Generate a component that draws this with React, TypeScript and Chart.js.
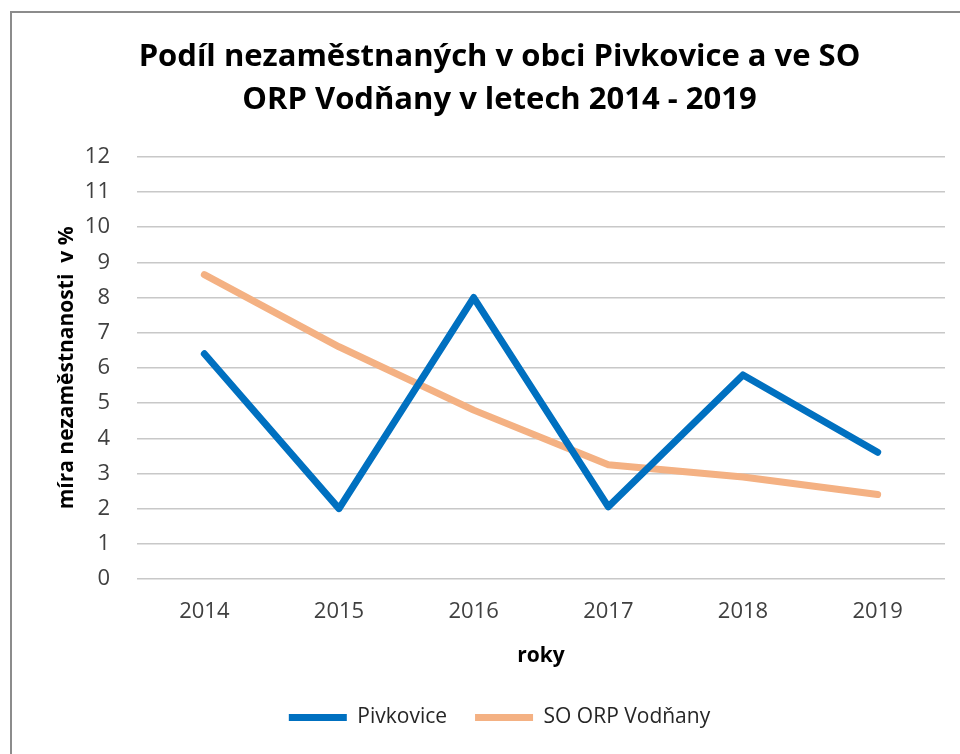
import React, { useEffect, useRef } from "react";
import { Chart, registerables } from "chart.js";

Chart.register(...registerables);

const titleLines = [
  "Podíl nezaměstnaných v obci Pivkovice a ve SO",
  "ORP Vodňany v letech 2014 - 2019",
];
const years = ["2014", "2015", "2016", "2017", "2018", "2019"];
const pivkovice = [6.4, 2.0, 8.0, 2.05, 5.8, 3.6];
const soOrpVodnany = [8.65, 6.6, 4.8, 3.25, 2.9, 2.4];
const seriesNames = ["Pivkovice", "SO ORP Vodňany"];
const yAxisTitle = "míra nezaměstnanosti  v %";
const xAxisTitle = "roky";

const FONT = "'Open Sans', sans-serif";

export default function App() {
  const ref = useRef<HTMLCanvasElement | null>(null);

  useEffect(() => {
    document.body.style.margin = "0";
    const canvas = ref.current;
    if (!canvas) return;
    const chart = new Chart(canvas, {
      type: "line",
      data: {
        labels: years,
        datasets: [
          {
            label: seriesNames[0],
            data: pivkovice,
            borderColor: "#0070C0",
            backgroundColor: "#0070C0",
            borderWidth: 7,
            pointRadius: 0,
            borderCapStyle: "round",
            borderJoinStyle: "round",
            tension: 0,
          },
          {
            label: seriesNames[1],
            data: soOrpVodnany,
            borderColor: "#F4B183",
            backgroundColor: "#F4B183",
            borderWidth: 7,
            pointRadius: 0,
            borderCapStyle: "round",
            borderJoinStyle: "round",
            tension: 0,
          },
        ],
      },
      options: {
        responsive: false,
        animation: false,
        devicePixelRatio: 1,
        layout: { padding: { left: 54, right: 15, top: 0, bottom: 16 } },
        plugins: {
          tooltip: { enabled: false },
          title: {
            display: true,
            text: titleLines,
            color: "#000",
            font: { family: FONT, size: 31, weight: "bold", lineHeight: 1.4 },
            padding: { top: 35, bottom: 35 },
          },
          legend: {
            position: "bottom",
            labels: {
              color: "#262626",
              font: { family: FONT, size: 21 },
              boxWidth: 58,
              boxHeight: 7,
              padding: 28,
              generateLabels: (c: any) =>
                c.data.datasets.map((ds: any, i: number) => ({
                  text: ds.label,
                  fillStyle: ds.borderColor,
                  strokeStyle: ds.borderColor,
                  lineWidth: 0,
                  hidden: false,
                  datasetIndex: i,
                  fontColor: "#262626",
                })),
            },
          },
        },
        scales: {
          x: {
            offset: true,
            grid: { display: false, drawTicks: false },
            border: { display: false },
            ticks: {
              color: "#404040",
              font: { family: FONT, size: 22 },
              padding: 20,
            },
            title: {
              display: true,
              text: xAxisTitle,
              color: "#000",
              font: { family: FONT, size: 21, weight: "bold" },
              padding: { top: 0, bottom: 10 },
            },
            afterFit: (scale: any) => {
              scale.height = 100;
            },
          },
          y: {
            min: 0,
            max: 12,
            grid: { color: "#C8C8C8", lineWidth: 1.5, drawTicks: false },
            border: { display: false },
            ticks: {
              stepSize: 1,
              color: "#404040",
              font: { family: FONT, size: 22 },
              padding: 27,
            },
            title: {
              display: true,
              text: yAxisTitle,
              color: "#000",
              font: { family: FONT, size: 21, weight: "bold" },
              padding: 0,
            },
            afterFit: (scale: any) => {
              scale.width = 83;
            },
          },
        },
      },
    });
    return () => chart.destroy();
  }, []);

  return (
    <div style={{ position: "relative", width: 960, height: 754, background: "#fff", overflow: "hidden" }}>
      <canvas ref={ref} width={960} height={754} style={{ position: "absolute", left: 0, top: 0 }} />
      <div
        style={{
          position: "absolute",
          left: 10,
          top: 11,
          width: 960,
          height: 760,
          borderLeft: "2px solid #8c8c8c",
          borderTop: "2px solid #8c8c8c",
          pointerEvents: "none",
        }}
      />
    </div>
  );
}
